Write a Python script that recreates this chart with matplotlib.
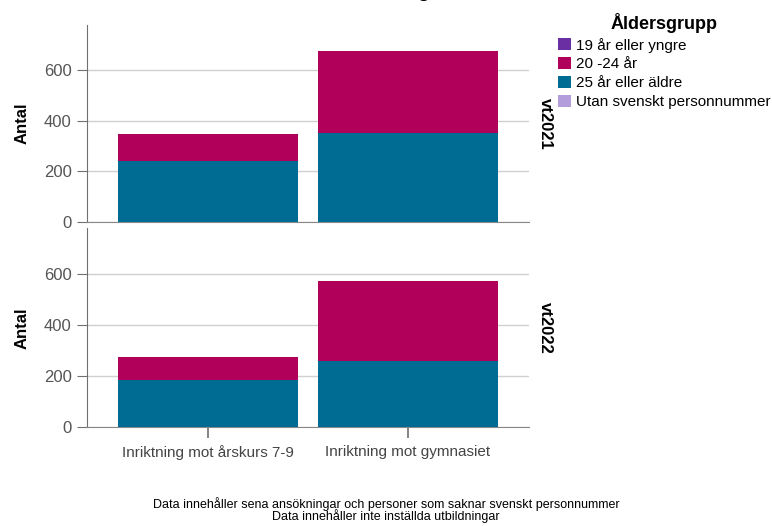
import matplotlib.pyplot as plt
import numpy as np
from matplotlib.patches import Patch

plt.rcParams['font.family'] = ['Liberation Sans', 'DejaVu Sans']

# data
categories = ['Inriktning mot årskurs 7-9', 'Inriktning mot gymnasiet']
terms = ['vt2021', 'vt2022']
age_groups = ['19 år eller yngre', '20 -24 år', '25 år eller äldre', 'Utan svenskt personnummer']
colors = ['#6a2fa3', '#b0005a', '#006c94', '#b49ddb']

under_19 = {'vt2021': [0, 0], 'vt2022': [0, 0]}
age_20_24 = {'vt2021': [107, 325], 'vt2022': [90, 315]}
over_25 = {'vt2021': [240, 352], 'vt2022': [187, 260]}
no_pnr = {'vt2021': [0, 0], 'vt2022': [0, 0]}

yticks = [0, 200, 400, 600]

fig = plt.figure(figsize=(7.72, 5.26), dpi=100)
ax_top = fig.add_axes([0.1127, 0.578, 0.5725, 0.3745])
ax_bot = fig.add_axes([0.1127, 0.1876, 0.5725, 0.378])

x = np.arange(len(categories))
for ax, term in zip([ax_top, ax_bot], terms):
    bottom = np.zeros(len(categories))
    # stack order: oldest at bottom
    for vals, c in [(over_25[term], colors[2]), (age_20_24[term], colors[1]),
                    (under_19[term], colors[0]), (no_pnr[term], colors[3])]:
        vals = np.array(vals)
        ax.bar(x, vals, width=0.9, bottom=bottom, color=c, zorder=3)
        bottom += vals

    ax.set_xlim(-0.606, 1.606)
    ax.set_ylim(0, 780)
    ax.set_yticks(yticks)
    ax.yaxis.grid(True, color='#d0d0d0', linewidth=1, zorder=0)
    for s in ['top', 'right']:
        ax.spines[s].set_visible(False)
    ax.spines['left'].set_color('#707070')
    ax.spines['bottom'].set_color('#888888')
    ax.tick_params(axis='y', colors='#707070', labelcolor='#555555', labelsize=12,
                   length=7, pad=4)
    ax.set_ylabel('Antal', fontsize=12, fontweight='bold', labelpad=10)
    ax.text(1.02, 0.5, term, transform=ax.transAxes, rotation=-90,
            fontsize=12, fontweight='bold', va='center', ha='left')

ax_top.set_xticks([])
ax_bot.set_xticks(x)
ax_bot.set_xticklabels(categories, fontsize=11, color='#444444')
ax_bot.tick_params(axis='x', colors='#707070', labelcolor='#444444', length=8, width=1.2, pad=5)

handles = [Patch(facecolor=c, edgecolor='none') for c in colors]
leg = fig.legend(handles, age_groups, loc='upper left', bbox_to_anchor=(0.715, 0.987),
                 title='Åldersgrupp', frameon=False, fontsize=11,
                 handlelength=0.85, handleheight=0.85, handletextpad=0.3,
                 labelspacing=0.3, borderaxespad=0)
leg.get_title().set_fontweight('bold')
leg.get_title().set_fontsize(13)

# title mostly cut off at top of the picture
fig.text(0.5, 1.006, 'Inriktning', ha='center', va='baseline', fontsize=14, fontweight='bold')

fig.text(0.5, 0.006, 'Data innehåller sena ansökningar och personer som saknar svenskt personnummer\n'
         'Data innehåller inte inställda utbildningar', ha='center', va='bottom',
         fontsize=9, linespacing=0.85)

fig.savefig('out.png', dpi=100)
